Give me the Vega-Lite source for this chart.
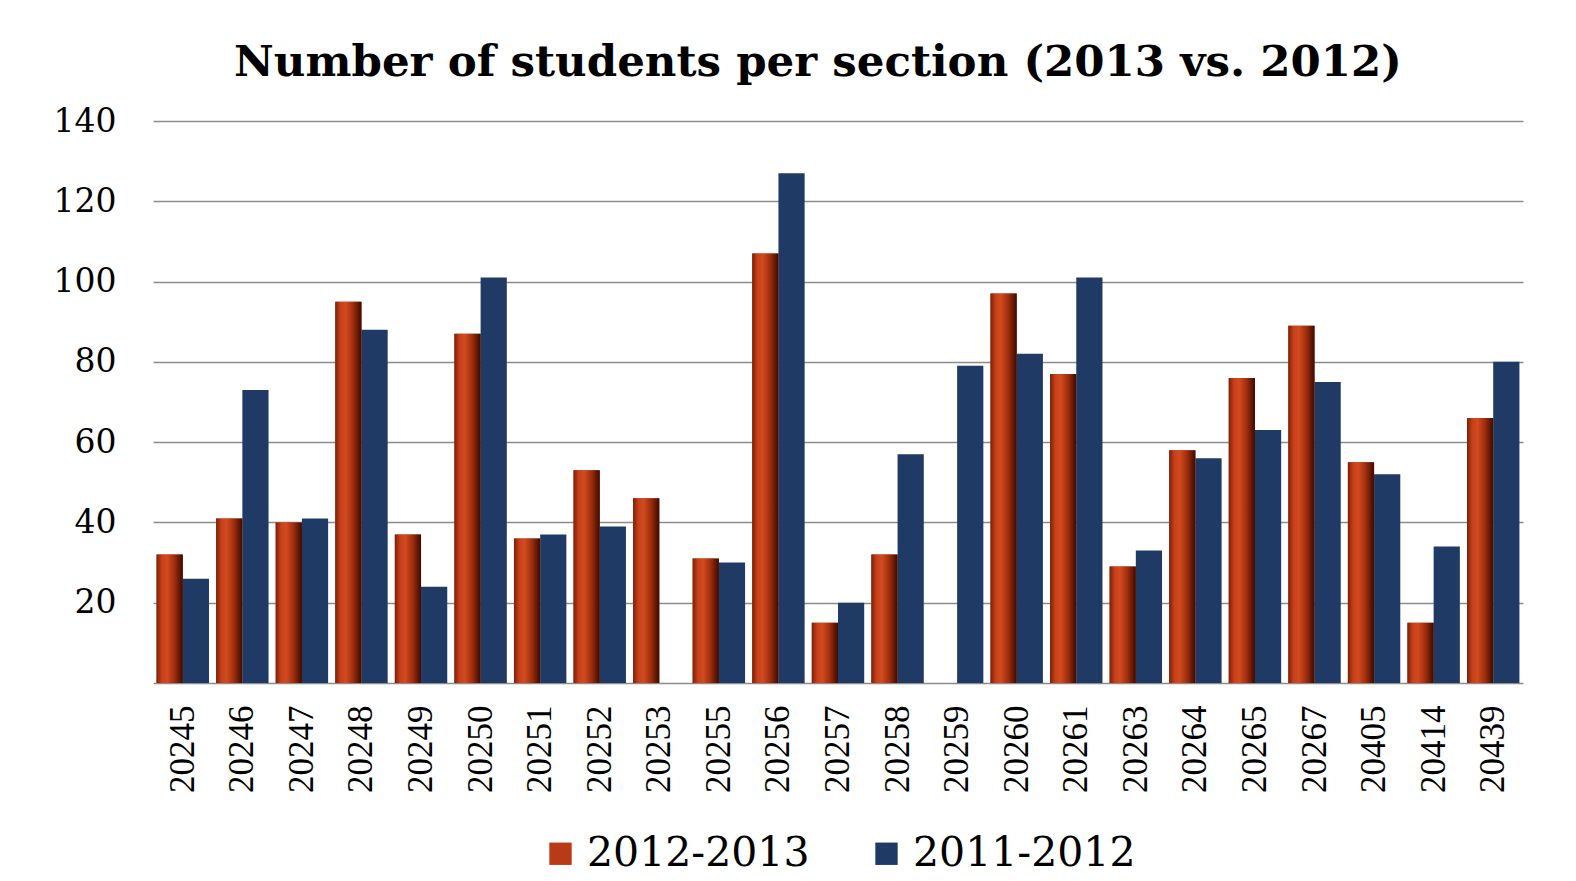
{
  "$schema": "https://vega.github.io/schema/vega-lite/v6.json",
  "width": 1370,
  "height": 562,
  "padding": {"left": 53, "top": 40, "right": 56, "bottom": 10},
  "background": "white",
  "title": {
    "text": "Number of students per section (2013 vs. 2012)",
    "font": "DejaVu Serif",
    "fontWeight": "bold",
    "fontSize": 43.5,
    "color": "#000000",
    "anchor": "middle",
    "frame": "group",
    "dx": -20,
    "offset": 20
  },
  "data": {
    "values": [
      {"section": "20245", "series": "2012-2013", "students": 32},
      {"section": "20245", "series": "2011-2012", "students": 26},
      {"section": "20246", "series": "2012-2013", "students": 41},
      {"section": "20246", "series": "2011-2012", "students": 73},
      {"section": "20247", "series": "2012-2013", "students": 40},
      {"section": "20247", "series": "2011-2012", "students": 41},
      {"section": "20248", "series": "2012-2013", "students": 95},
      {"section": "20248", "series": "2011-2012", "students": 88},
      {"section": "20249", "series": "2012-2013", "students": 37},
      {"section": "20249", "series": "2011-2012", "students": 24},
      {"section": "20250", "series": "2012-2013", "students": 87},
      {"section": "20250", "series": "2011-2012", "students": 101},
      {"section": "20251", "series": "2012-2013", "students": 36},
      {"section": "20251", "series": "2011-2012", "students": 37},
      {"section": "20252", "series": "2012-2013", "students": 53},
      {"section": "20252", "series": "2011-2012", "students": 39},
      {"section": "20253", "series": "2012-2013", "students": 46},
      {"section": "20255", "series": "2012-2013", "students": 31},
      {"section": "20255", "series": "2011-2012", "students": 30},
      {"section": "20256", "series": "2012-2013", "students": 107},
      {"section": "20256", "series": "2011-2012", "students": 127},
      {"section": "20257", "series": "2012-2013", "students": 15},
      {"section": "20257", "series": "2011-2012", "students": 20},
      {"section": "20258", "series": "2012-2013", "students": 32},
      {"section": "20258", "series": "2011-2012", "students": 57},
      {"section": "20259", "series": "2011-2012", "students": 79},
      {"section": "20260", "series": "2012-2013", "students": 97},
      {"section": "20260", "series": "2011-2012", "students": 82},
      {"section": "20261", "series": "2012-2013", "students": 77},
      {"section": "20261", "series": "2011-2012", "students": 101},
      {"section": "20263", "series": "2012-2013", "students": 29},
      {"section": "20263", "series": "2011-2012", "students": 33},
      {"section": "20264", "series": "2012-2013", "students": 58},
      {"section": "20264", "series": "2011-2012", "students": 56},
      {"section": "20265", "series": "2012-2013", "students": 76},
      {"section": "20265", "series": "2011-2012", "students": 63},
      {"section": "20267", "series": "2012-2013", "students": 89},
      {"section": "20267", "series": "2011-2012", "students": 75},
      {"section": "20405", "series": "2012-2013", "students": 55},
      {"section": "20405", "series": "2011-2012", "students": 52},
      {"section": "20414", "series": "2012-2013", "students": 15},
      {"section": "20414", "series": "2011-2012", "students": 34},
      {"section": "20439", "series": "2012-2013", "students": 66},
      {"section": "20439", "series": "2011-2012", "students": 80}
    ]
  },
  "encoding": {
    "x": {
      "field": "section",
      "type": "nominal",
      "sort": null,
      "scale": {"paddingInner": 0.12, "paddingOuter": 0.06},
      "axis": {
        "title": null,
        "labelAngle": -90,
        "labelFont": "Liberation Serif",
        "labelFontSize": 35,
        "labelColor": "#000000",
        "labelPadding": 22,
        "ticks": false,
        "domain": true,
        "domainColor": "#8c8c8c",
        "domainWidth": 1.5,
        "grid": false
      }
    },
    "xOffset": {
      "field": "series",
      "type": "nominal",
      "scale": {"domain": ["2012-2013", "2011-2012"], "paddingInner": 0, "paddingOuter": 0}
    },
    "y": {
      "field": "students",
      "type": "quantitative",
      "scale": {"domain": [0, 140], "nice": false},
      "axis": {
        "title": null,
        "values": [20, 40, 60, 80, 100, 120, 140],
        "labelFont": "DejaVu Serif",
        "labelFontSize": 33,
        "labelColor": "#000000",
        "labelPadding": 37,
        "ticks": false,
        "domain": false,
        "grid": true,
        "gridColor": "#8c8c8c",
        "gridWidth": 1.5
      }
    }
  },
  "layer": [
    {
      "mark": {"type": "bar"},
      "encoding": {
        "color": {
          "field": "series",
          "type": "nominal",
          "scale": {"domain": ["2012-2013", "2011-2012"], "range": ["#b83a16", "#1f3a64"]},
          "legend": {
            "title": null,
            "orient": "bottom",
            "direction": "horizontal",
            "symbolType": "square",
            "symbolSize": 500,
            "symbolStrokeWidth": 0,
            "labelFont": "DejaVu Serif",
            "labelFontSize": 41,
            "labelColor": "#000000",
            "labelLimit": 0,
            "labelOffset": 6,
            "columnPadding": 56,
            "offset": 40
          }
        }
      }
    },
    {
      "transform": [{"filter": "datum.series === '2012-2013'"}],
      "mark": {
        "type": "bar",
        "color": {
          "gradient": "linear",
          "x1": 0, "y1": 0, "x2": 1, "y2": 0,
          "stops": [
            {"offset": 0, "color": "#7a2008"},
            {"offset": 0.2, "color": "#c8401a"},
            {"offset": 0.4, "color": "#d24a1f"},
            {"offset": 0.7, "color": "#9a2c0c"},
            {"offset": 0.9, "color": "#5a1504"},
            {"offset": 1, "color": "#3a0c02"}
          ]
        }
      }
    }
  ],
  "config": {
    "view": {"stroke": null},
    "legend": {"layout": {"bottom": {"anchor": "middle"}}}
  }
}
